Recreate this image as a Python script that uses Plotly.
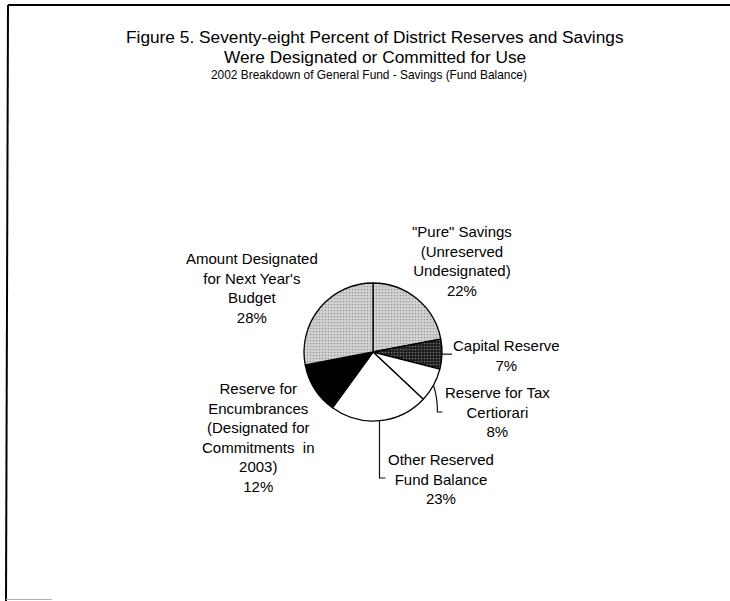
import math
import plotly.graph_objects as go

# Fund balance breakdown, clockwise from 12 o'clock
labels = [
    "\"Pure\" Savings<br>(Unreserved<br>Undesignated)",
    "Capital Reserve",
    "Reserve for Tax<br>Certiorari",
    "Other Reserved<br>Fund Balance",
    "Reserve for<br>Encumbrances<br>(Designated for<br>Commitments\u00a0 in<br>2003)",
    "Amount Designated<br>for Next Year's<br>Budget",
]
values = [22, 7, 8, 23, 12, 28]

title_lines = [
    "Figure 5. Seventy-eight Percent of District Reserves and Savings",
    "Were Designated or Committed for Use",
]
subtitle = "2002 Breakdown of General Fund - Savings (Fund Balance)"

W, H = 730, 601
FONT = "Arial, Liberation Sans, sans-serif"

# pie geometry in pixels
CX, CY, R = 373, 352, 69


def px(x):
    return x / W


def py(y):
    return 1 - y / H


# stippled greys, plain white and solid black slices
fills = ["#d4d4d4", "#1c1c1c", "#ffffff", "#ffffff", "#000000", "#d4d4d4"]
dots = ["#9a9a9a", "#707070", "#ffffff", "#ffffff", "#000000", "#9a9a9a"]
shapes_pat = [".", ".", "", "", "", "."]

fig = go.Figure(
    go.Pie(
        labels=[l.replace("<br>", " ") for l in labels],
        values=values,
        sort=False,
        direction="clockwise",
        rotation=0,
        textinfo="none",
        hoverinfo="skip",
        showlegend=False,
        marker=dict(
            colors=fills,
            line=dict(color="#000000", width=1.3),
            pattern=dict(shape=shapes_pat, fgcolor=dots, bgcolor=fills,
                         size=3, solidity=0.25),
        ),
        domain=dict(x=[px(CX - R), px(CX + R)], y=[py(CY + R), py(CY - R)]),
    )
)

# slice label blocks: (center x, center y) in pixels
label_pos = [(462, 261), (506, 355), (497, 412), (441, 479), (258, 437), (252, 288)]

annotations = []
for lab, v, (lx, ly) in zip(labels, values, label_pos):
    annotations.append(dict(
        x=px(lx), y=py(ly), xref="paper", yref="paper",
        text=f"{lab}<br>{v}%", showarrow=False,
        xanchor="center", yanchor="middle", align="center",
        font=dict(family=FONT, size=15, color="#000000"),
    ))

annotations.append(dict(
    x=px(375), y=py(37), xref="paper", yref="paper", text=title_lines[0],
    showarrow=False, xanchor="center", yanchor="middle",
    font=dict(family=FONT, size=17.3, color="#000000"),
))
annotations.append(dict(
    x=px(375), y=py(57), xref="paper", yref="paper", text=title_lines[1],
    showarrow=False, xanchor="center", yanchor="middle",
    font=dict(family=FONT, size=17.3, color="#000000"),
))
annotations.append(dict(
    x=px(369), y=py(75), xref="paper", yref="paper", text=subtitle,
    showarrow=False, xanchor="center", yanchor="middle",
    font=dict(family=FONT, size=11.9, color="#000000"),
))


# leader lines from slice edges to their labels
def edge_point(idx):
    start = sum(values[:idx]) / sum(values)
    mid = start + values[idx] / sum(values) / 2
    ang = mid * 2 * math.pi
    return CX + R * math.sin(ang), CY - R * math.cos(ang)


line_style = dict(color="#111111", width=1.2)
shapes = []
ex, ey = edge_point(1)
shapes.append(dict(type="path", xref="paper", yref="paper",
                   path=f"M {px(ex)},{py(ey)} L {px(ex + 10)},{py(ey)}", line=line_style))
ex, ey = edge_point(2)
shapes.append(dict(type="path", xref="paper", yref="paper",
                   path=f"M {px(ex)},{py(ey)} Q {px(ex + 4)},{py(ey + 12)} {px(ex + 4)},{py(412)} "
                        f"L {px(ex + 9)},{py(412)}", line=line_style))
ex, ey = edge_point(3)
shapes.append(dict(type="path", xref="paper", yref="paper",
                   path=f"M {px(ex)},{py(ey)} L {px(ex)},{py(478)} L {px(ex + 6)},{py(478)}",
                   line=line_style))

# page frame
shapes.append(dict(type="line", xref="paper", yref="paper",
                   x0=px(8), x1=px(730), y0=py(5), y1=py(5),
                   line=dict(color="#000000", width=2)))
shapes.append(dict(type="line", xref="paper", yref="paper",
                   x0=px(8), x1=px(6), y0=py(5), y1=py(601),
                   line=dict(color="#000000", width=2)))
shapes.append(dict(type="line", xref="paper", yref="paper",
                   x0=px(6), x1=px(52), y0=py(599.5), y1=py(599.5),
                   line=dict(color="#b0b0b0", width=1)))

fig.update_layout(
    width=W, height=H,
    margin=dict(l=0, r=0, t=0, b=0),
    paper_bgcolor="#ffffff",
    plot_bgcolor="#ffffff",
    annotations=annotations,
    shapes=shapes,
)

fig.write_html("out.html")
